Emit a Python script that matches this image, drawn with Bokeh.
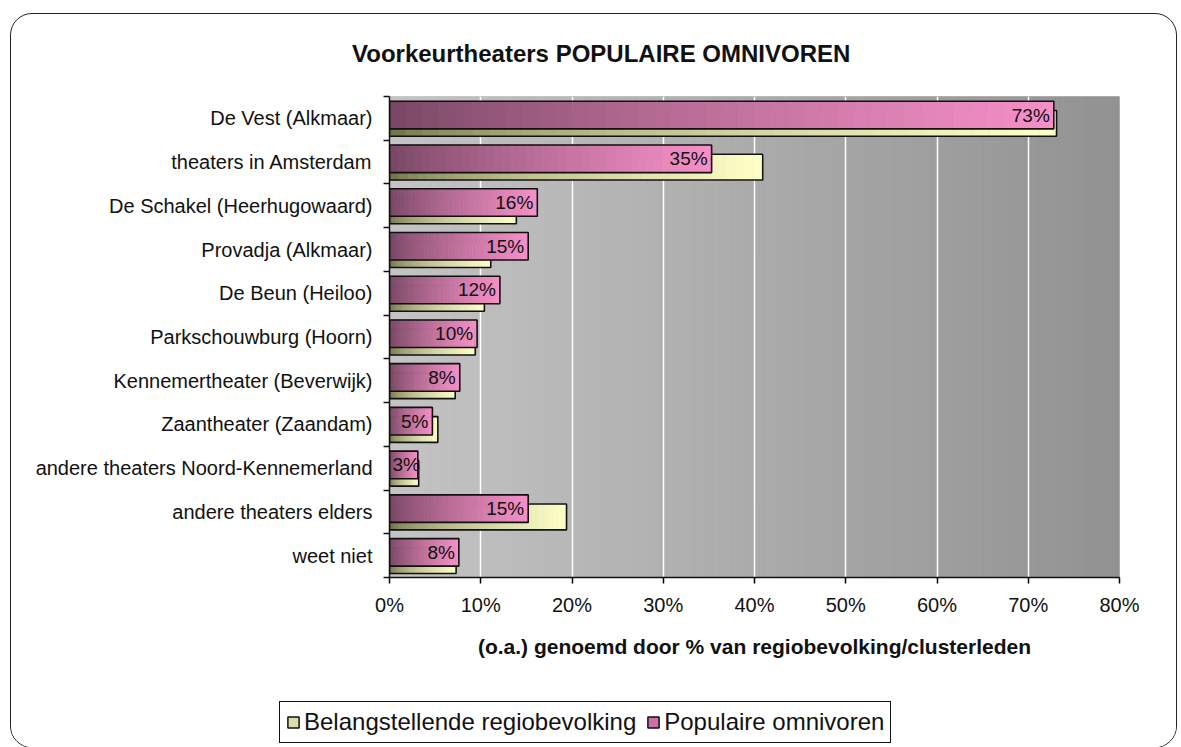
import numpy as np
from bokeh.plotting import figure
from bokeh.layouts import column, row
from bokeh.models import Range1d, FixedTicker, Legend, LegendItem, ColumnDataSource, Spacer, Div
from bokeh.core.properties import value
from bokeh.embed import file_html
from bokeh.resources import INLINE

# ---------------- data ----------------
categories = [
    "De Vest (Alkmaar)",
    "theaters in Amsterdam",
    "De Schakel (Heerhugowaard)",
    "Provadja (Alkmaar)",
    "De Beun (Heiloo)",
    "Parkschouwburg (Hoorn)",
    "Kennemertheater (Beverwijk)",
    "Zaantheater (Zaandam)",
    "andere theaters Noord-Kennemerland",
    "andere theaters elders",
    "weet niet",
]
belangstellende = [73.1, 40.9, 13.9, 11.1, 10.4, 9.4, 7.2, 5.3, 3.2, 19.4, 7.3]
omnivoren = [72.8, 35.3, 16.2, 15.2, 12.1, 9.6, 7.7, 4.7, 3.1, 15.2, 7.6]
series_names = ["Belangstellende regiobevolking", "Populaire omnivoren"]
x_ticks = [0, 10, 20, 30, 40, 50, 60, 70, 80]
x_tick_labels = ["0%", "10%", "20%", "30%", "40%", "50%", "60%", "70%", "80%"]
title_text = "Voorkeurtheaters POPULAIRE OMNIVOREN"
x_axis_title = "(o.a.) genoemd door % van regiobevolking/clusterleden"

FONT = "Liberation Sans"
n_cat = len(categories)
W = 1165


def hexc(rgb):
    return "#%02x%02x%02x" % tuple(int(round(c)) for c in rgb)


def gradient(c0, c1, n, gamma=1.0):
    out = []
    for k in range(n):
        t = (k + 0.5) / n
        t = t ** gamma
        out.append(hexc([a + (b - a) * t for a, b in zip(c0, c1)]))
    return out


# ---------- title strip ----------
title_div = Div(
    text='<div style="margin-left:341px; margin-top:23px; font-family:\'Liberation Sans\'; '
         'font-weight:bold; font-size:24px; color:#111111; white-space:nowrap;">%s</div>' % title_text,
    width=W, height=78, margin=(0, 0, 0, 0),
)

p = figure(
    width=W, height=589,
    output_backend="svg", toolbar_location=None,
    x_range=Range1d(0, 80), y_range=Range1d(n_cat, 0),
    min_border_left=378, min_border_right=57, min_border_top=4, min_border_bottom=104,
    background_fill_color="#aaaaaa", border_fill_color="white",
)
p.outline_line_color = None

# ---------- background gradient of plot area ----------
nb = 160
edges = np.linspace(x_ticks[0], x_ticks[-1], nb + 1)
bg_src = ColumnDataSource(dict(
    left=edges[:-1], right=edges[1:],
    top=[0] * nb, bottom=[n_cat] * nb,
    color=gradient((196, 196, 196), (146, 146, 146), nb),
))
p.quad(left="left", right="right", top="top", bottom="bottom", source=bg_src,
       fill_color="color", line_color="color", line_width=1, level="image")

# ---------- bars ----------
NSEG = 40
BEIGE = ((104, 104, 66), (255, 255, 200))
PINK = ((118, 70, 98), (246, 144, 200))


def draw_series(vals, frac_top, frac_bot, cpair, gamma):
    L, R, T, B, C = [], [], [], [], []
    cols = gradient(cpair[0], cpair[1], NSEG, gamma)
    for i, v in enumerate(vals):
        e = np.linspace(0, v, NSEG + 1)
        L += list(e[:-1]); R += list(e[1:])
        T += [i + frac_top] * NSEG; B += [i + frac_bot] * NSEG
        C += cols
    src = ColumnDataSource(dict(left=L, right=R, top=T, bottom=B, color=C))
    p.quad(left="left", right="right", top="top", bottom="bottom", source=src,
           fill_color="color", line_color="color", line_width=0.6)
    osrc = ColumnDataSource(dict(
        left=[0] * len(vals), right=vals,
        top=[i + frac_top for i in range(len(vals))],
        bottom=[i + frac_bot for i in range(len(vals))]))
    p.quad(left="left", right="right", top="top", bottom="bottom", source=osrc,
           fill_color=None, line_color="#111111", line_width=1.6)


draw_series(belangstellende, 0.32, 0.91, BEIGE, 0.55)
draw_series(omnivoren, 0.11, 0.74, PINK, 0.8)

# data labels (inside end; labels that do not fit start at the bar base)
lab_text = ["%d%%" % int(round(v)) for v in omnivoren]
fit = [i for i, v in enumerate(omnivoren) if v >= 4]
nofit = [i for i, v in enumerate(omnivoren) if v < 4]
src_fit = ColumnDataSource(dict(
    x=[omnivoren[i] for i in fit], y=[i + 0.425 for i in fit], text=[lab_text[i] for i in fit]))
src_nofit = ColumnDataSource(dict(
    x=[0 for i in nofit], y=[i + 0.425 for i in nofit], text=[lab_text[i] for i in nofit]))
p.text(x="x", y="y", text="text", source=src_fit, text_align="right",
       text_baseline="middle", x_offset=-4, text_font=value(FONT),
       text_font_size="19px", text_color="#111111")
p.text(x="x", y="y", text="text", source=src_nofit, text_align="left",
       text_baseline="middle", x_offset=3, text_font=value(FONT),
       text_font_size="19px", text_color="#111111")

# ---------- axes ----------
xa = p.xaxis[0]
xa.ticker = FixedTicker(ticks=x_ticks)
xa.major_label_overrides = {t: l for t, l in zip(x_ticks, x_tick_labels)}
xa.major_label_text_font = FONT
xa.major_label_text_font_size = "20px"
xa.major_label_text_color = "#111111"
xa.major_tick_out = 6
xa.major_tick_in = 0
xa.minor_tick_out = 0
xa.minor_tick_in = 0
xa.axis_line_color = "#111111"
xa.axis_line_width = 1.5
xa.major_tick_line_width = 1.5
xa.major_label_standoff = 10
xa.axis_label = x_axis_title
xa.axis_label_text_font = FONT
xa.axis_label_text_font_style = "bold"
xa.axis_label_text_font_size = "21px"
xa.axis_label_text_color = "#111111"
xa.axis_label_standoff = 16

ya = p.yaxis[0]
ya.ticker = FixedTicker(ticks=[i + 0.5 for i in range(n_cat)], minor_ticks=list(range(n_cat + 1)))
ya.major_label_overrides = {i + 0.5: c for i, c in enumerate(categories)}
ya.major_label_text_font = FONT
ya.major_label_text_font_size = "20px"
ya.major_label_text_color = "#111111"
ya.major_tick_out = 0
ya.major_tick_in = 0
ya.minor_tick_out = 6
ya.minor_tick_in = 0
ya.minor_tick_line_color = "#111111"
ya.minor_tick_line_width = 1.5
ya.axis_line_color = "#111111"
ya.axis_line_width = 1.5
ya.major_label_standoff = 11

p.xgrid.ticker = FixedTicker(ticks=x_ticks[1:-1])
p.xgrid.grid_line_color = "white"
p.xgrid.grid_line_width = 1.5
p.ygrid.visible = False

# ---------- legend strip (separate small figure below the chart) ----------
lf = figure(width=W, height=66, output_backend="svg", toolbar_location=None,
            x_axis_location=None, y_axis_location=None, min_border=0,
            x_range=Range1d(0, 1), y_range=Range1d(0, 1),
            background_fill_color="white", border_fill_color="white")
if "frame_align" in lf.properties():
    lf.frame_align = False
    p.frame_align = False
lf.outline_line_color = None
lf.grid.visible = False
# legend proxies lie outside the visible range of the strip
r_b = lf.quad(left=[-3], right=[-2], top=[-2], bottom=[-3],
              fill_color="#dcdcaa", line_color="#111111", line_width=1.5)
r_p = lf.quad(left=[-3], right=[-2], top=[-2], bottom=[-3],
              fill_color="#cc6fa6", line_color="#111111", line_width=1.5)
legend = Legend(
    items=[LegendItem(label=series_names[0], renderers=[r_b]),
           LegendItem(label=series_names[1], renderers=[r_p])],
    orientation="horizontal", location=(268, 4),
    border_line_color="#111111", border_line_width=1.5, border_line_alpha=1,
    background_fill_color="white", background_fill_alpha=1,
    label_text_font=FONT, label_text_font_size="24px", label_text_color="#111111",
    glyph_width=14, glyph_height=14, padding=6, spacing=10, label_standoff=4, margin=0,
)
lf.add_layout(legend)

box = column(title_div, p, lf, spacing=0,
             styles={"border": "1.5px solid #222222", "border-radius": "22px",
                     "overflow": "hidden", "background-color": "white"})
page = column(Spacer(width=10, height=13), row(Spacer(width=10, height=10), box), spacing=0)

open("out.html", "w").write(file_html(page, INLINE))
